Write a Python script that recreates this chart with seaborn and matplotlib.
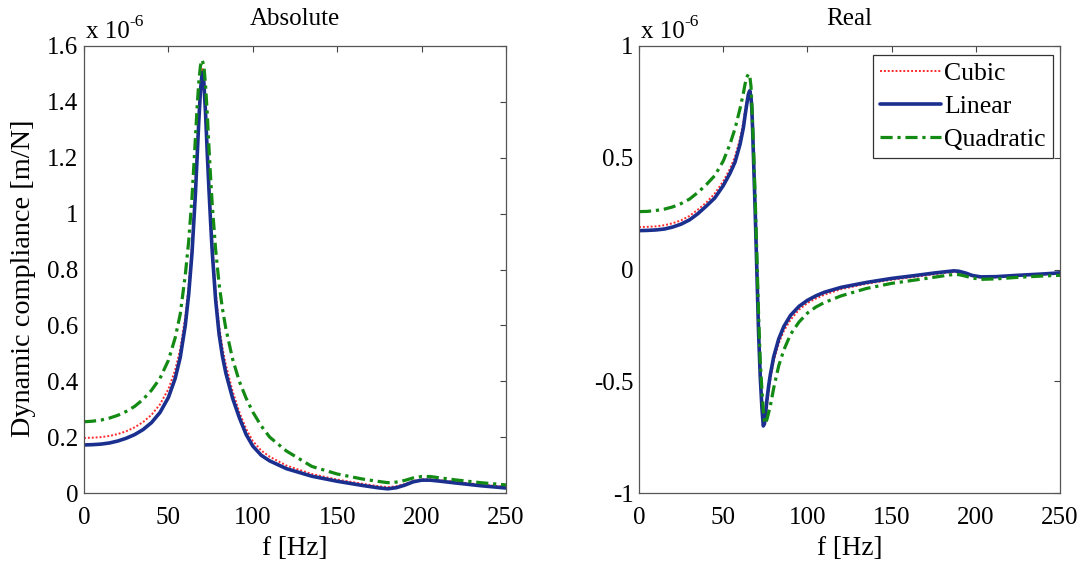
import matplotlib
matplotlib.use("Agg")
import matplotlib.pyplot as plt
import seaborn as sns
from matplotlib.ticker import FuncFormatter, FixedLocator

# ---------------- data (compliance in units of 1e-6 m/N) ----------------
f_abs = [0, 5, 10, 15, 20, 25, 30, 35, 40, 45, 50, 54, 57, 60, 62, 64, 66, 67, 68, 69,
         70, 71, 72, 73, 74, 75, 76, 78, 80, 82, 84, 88, 92, 96, 100, 105, 110, 120, 135, 150,
         165, 175, 180, 185, 190, 195, 200, 205, 210, 220, 235, 250]
abs_cubic = [0.197, 0.198, 0.2, 0.204, 0.211, 0.221, 0.235, 0.254, 0.28, 0.317,
             0.372, 0.44, 0.515, 0.63, 0.74, 0.89, 1.10, 1.23, 1.36, 1.46,
             1.52, 1.49, 1.39, 1.25, 1.12, 1.0, 0.89, 0.72, 0.60, 0.52,
             0.46, 0.365, 0.29, 0.23, 0.186, 0.152, 0.13, 0.098, 0.068, 0.048,
             0.033, 0.024, 0.021, 0.024, 0.032, 0.043, 0.049, 0.049, 0.046, 0.04,
             0.03, 0.022]
abs_linear = [0.172, 0.173, 0.175, 0.179, 0.186, 0.196, 0.209, 0.227, 0.252, 0.288,
              0.342, 0.41, 0.485, 0.60, 0.71, 0.86, 1.07, 1.20, 1.33, 1.44,
              1.505, 1.47, 1.36, 1.22, 1.09, 0.97, 0.86, 0.69, 0.57, 0.49,
              0.43, 0.34, 0.27, 0.21, 0.168, 0.135, 0.115, 0.087, 0.06, 0.042,
              0.027, 0.018, 0.015, 0.019, 0.028, 0.04, 0.046, 0.046, 0.043, 0.036,
              0.026, 0.018]
abs_quadratic = [0.255, 0.257, 0.261, 0.268, 0.278, 0.292, 0.31, 0.335, 0.368, 0.41,
                 0.475, 0.555, 0.64, 0.78, 0.9, 1.06, 1.27, 1.38, 1.47, 1.53,
                 1.55, 1.53, 1.46, 1.36, 1.24, 1.13, 1.03, 0.87, 0.75, 0.66,
                 0.59, 0.48, 0.40, 0.34, 0.29, 0.24, 0.20, 0.15, 0.095, 0.068,
                 0.05, 0.041, 0.037, 0.039, 0.045, 0.054, 0.059, 0.059, 0.055, 0.047,
                 0.037, 0.029]

f_re = [0, 5, 10, 15, 20, 25, 30, 35, 40, 45, 50, 54, 57, 60, 62, 63, 64, 65, 65.8, 66.5,
        67, 67.5, 68, 69, 70, 71, 72, 73, 73.8, 74.5, 75, 76, 77, 78, 80, 83, 86, 90, 95, 100,
        105, 110, 120, 135, 150, 165, 175, 182, 187, 190, 194, 198, 203, 212, 225, 240, 250]
re_cubic = [0.19, 0.191, 0.193, 0.198, 0.207, 0.22, 0.24, 0.268, 0.30, 0.34,
            0.395, 0.45, 0.505, 0.585, 0.66, 0.71, 0.76, 0.795, 0.805, 0.775,
            0.725, 0.63, 0.51, 0.28, 0.01, -0.26, -0.47, -0.61, -0.68, -0.69,
            -0.675, -0.61, -0.55, -0.49, -0.41, -0.33, -0.275, -0.225, -0.18, -0.15,
            -0.13, -0.113, -0.088, -0.064, -0.046, -0.032, -0.022, -0.015, -0.011, -0.013,
            -0.02, -0.03, -0.036, -0.035, -0.028, -0.022, -0.018]
re_linear = [0.174, 0.175, 0.177, 0.181, 0.19, 0.203, 0.222, 0.25, 0.284, 0.32,
             0.375, 0.43, 0.48, 0.56, 0.635, 0.69, 0.74, 0.785, 0.80, 0.77,
             0.72, 0.62, 0.5, 0.26, -0.01, -0.28, -0.48, -0.62, -0.70, -0.69,
             -0.66, -0.58, -0.52, -0.47, -0.39, -0.31, -0.255, -0.205, -0.165, -0.138,
             -0.118, -0.102, -0.08, -0.058, -0.04, -0.026, -0.016, -0.01, -0.006, -0.008,
             -0.016, -0.027, -0.033, -0.032, -0.026, -0.02, -0.015]
re_quadratic = [0.259, 0.26, 0.264, 0.27, 0.28, 0.295, 0.315, 0.345, 0.38, 0.42,
                0.485, 0.56, 0.63, 0.72, 0.79, 0.83, 0.86, 0.875, 0.865, 0.82,
                0.74, 0.64, 0.54, 0.32, 0.06, -0.2, -0.41, -0.54, -0.63, -0.68,
                -0.69, -0.67, -0.64, -0.61, -0.53, -0.43, -0.36, -0.29, -0.235, -0.195,
                -0.168, -0.148, -0.118, -0.085, -0.062, -0.046, -0.035, -0.027, -0.022, -0.023,
                -0.03, -0.038, -0.044, -0.042, -0.035, -0.029, -0.026]

series_names = ["Cubic", "Linear", "Quadratic"]
x_ticks = [0, 50, 100, 150, 200, 250]
abs_yticks = [0, 0.2, 0.4, 0.6, 0.8, 1, 1.2, 1.4, 1.6]
re_yticks = [-1, -0.5, 0, 0.5, 1]

# ---------------- style ----------------
sns.set_style("white")
plt.rcParams["font.family"] = ["Liberation Serif", "DejaVu Serif"]
plt.rcParams["text.color"] = "black"
plt.rcParams["axes.labelcolor"] = "black"
plt.rcParams["xtick.color"] = "black"
plt.rcParams["ytick.color"] = "black"

styles = {
    "Cubic": dict(color="#ff2a2a", lw=1.4, linestyle=(0, (1, 1.0))),
    "Linear": dict(color="#1b2f8f", lw=2.6, linestyle="-"),
    "Quadratic": dict(color="#138a13", lw=2.3, linestyle=(0, (3.8, 1.5, 1, 1.5))),
}

fig = plt.figure(figsize=(10.8, 5.61), dpi=100)
ax1 = fig.add_axes([84 / 1080, 68 / 561, 422 / 1080, 447 / 561])
ax2 = fig.add_axes([639 / 1080, 68 / 561, 421 / 1080, 447 / 561])

for name, yv in zip(series_names, [abs_cubic, abs_linear, abs_quadratic]):
    sns.lineplot(x=f_abs, y=yv, ax=ax1, label=name, **styles[name])
for name, yv in zip(series_names, [re_cubic, re_linear, re_quadratic]):
    sns.lineplot(x=f_re, y=yv, ax=ax2, label=name, **styles[name])

fmt = FuncFormatter(lambda v, p: "%g" % v)
for ax, yt, lim, title in [(ax1, abs_yticks, (0, 1.6), "Absolute"),
                           (ax2, re_yticks, (-1, 1), "Real")]:
    ax.set_xlim(0, 250)
    ax.set_ylim(*lim)
    ax.xaxis.set_major_locator(FixedLocator(x_ticks))
    ax.yaxis.set_major_locator(FixedLocator(yt))
    ax.xaxis.set_major_formatter(fmt)
    ax.yaxis.set_major_formatter(fmt)
    ax.tick_params(direction="in", length=4, width=0.8, color="#444444",
                   top=True, right=True, labelsize=18, pad=4)
    ax.tick_params(axis="x", pad=10)
    for s in ax.spines.values():
        s.set_color("#555555")
        s.set_linewidth(0.9)
    ax.set_xlabel("f [Hz]", fontsize=19.5, labelpad=5)
    ax.set_title(title, fontsize=18, pad=15)
    base = ax.text(0.005, 1.018, "x 10", transform=ax.transAxes,
                   fontsize=18, ha="left", va="baseline")
    ax.annotate("-6", xy=(1.0, 0.79), xycoords=base, fontsize=12.5,
                ha="left", va="baseline", annotation_clip=False)
    leg = ax.get_legend()
    if leg is not None:
        leg.remove()

ax1.set_ylabel("Dynamic compliance [m/N]", fontsize=20.3)
ax1.yaxis.set_label_coords(-0.114, 0.481)
ax2.set_ylabel("")

leg = ax2.legend(loc="upper right", bbox_to_anchor=(0.983, 0.980), borderaxespad=0,
                 fontsize=18.5, frameon=True, fancybox=False, framealpha=1,
                 edgecolor="#333333", handlelength=2.4, handletextpad=0.1,
                 labelspacing=0.38, borderpad=0.28)
leg.get_frame().set_linewidth(0.9)

fig.savefig("out.png", dpi=100)
